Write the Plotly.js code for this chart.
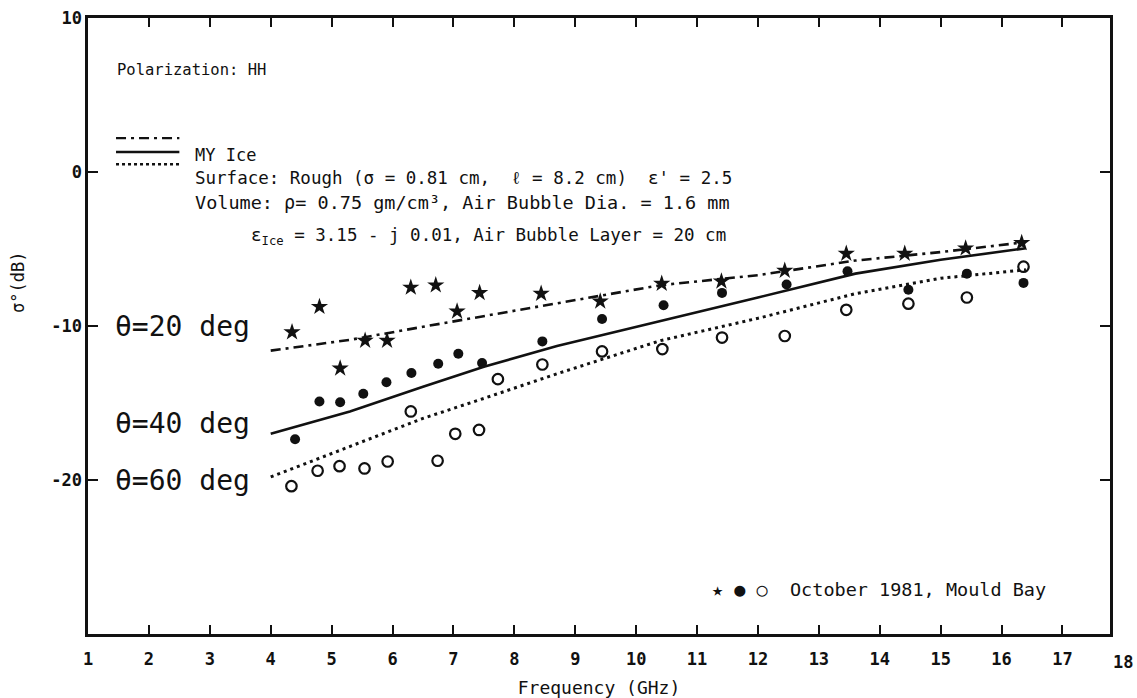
<!DOCTYPE html>
<html>
<head>
<meta charset="utf-8">
<script src="https://cdn.plot.ly/plotly-3.0.1.min.js"></script>
<style>
  html, body { margin: 0; padding: 0; background: #fff; }
  #chart { width: 1137px; height: 698px; }
</style>
</head>
<body>
<div id="chart"></div>
<script>
// Measured backscatter, October 1981, Mould Bay (HH polarization)
const freqStar   = [4.35, 4.80, 5.14, 5.55, 5.91, 6.30, 6.71, 7.06, 7.43, 8.44, 9.41, 10.42, 11.40, 12.44, 13.45, 14.41, 15.41, 16.33];
const sigmaStar  = [-10.4, -8.75, -12.75, -10.95, -10.95, -7.5, -7.35, -9.05, -7.85, -7.9, -8.4, -7.25, -7.1, -6.4, -5.3, -5.3, -4.95, -4.6];

const freqFilled  = [4.40, 4.80, 5.14, 5.52, 5.90, 6.31, 6.75, 7.08, 7.47, 8.46, 9.44, 10.45, 11.41, 12.47, 13.47, 14.47, 15.43, 16.36];
const sigmaFilled = [-17.35, -14.9, -14.95, -14.4, -13.65, -13.05, -12.45, -11.8, -12.4, -11.0, -9.55, -8.65, -7.85, -7.3, -6.45, -7.65, -6.6, -7.2];

const freqOpen  = [4.34, 4.77, 5.13, 5.54, 5.92, 6.30, 6.74, 7.03, 7.42, 7.73, 8.46, 9.44, 10.43, 11.41, 12.44, 13.45, 14.47, 15.43, 16.36];
const sigmaOpen = [-20.4, -19.4, -19.1, -19.25, -18.8, -15.55, -18.75, -17.0, -16.75, -13.45, -12.5, -11.65, -11.5, -10.75, -10.65, -8.95, -8.55, -8.15, -6.15];

// Model curves for multi-year ice
const freqModel  = [4.0, 5.3, 6.5, 7.5, 8.7, 10.4, 12.0, 13.6, 15.0, 16.4];
const model20deg = [-11.6, -10.9, -10.05, -9.35, -8.5, -7.35, -6.7, -5.75, -5.2, -4.55];
const model40deg = [-17.0, -15.55, -13.95, -12.65, -11.3, -9.7, -8.15, -6.6, -5.7, -4.95];
const model60deg = [-19.8, -17.85, -16.0, -14.7, -13.1, -10.95, -9.5, -7.9, -6.9, -6.35];

// Axis ticks
const xTickVals = [1, 2, 3, 4, 5, 6, 7, 8, 9, 10, 11, 12, 13, 14, 15, 16, 17];
const xExtraLabel = 18;
const yTickVals = [10, 0, -10, -20];
const yTickText = ['10', '0', '-10', '-20'];

const xRange = [1, 17.78];
const yRange = [-30, 10];

const ink = '#111';
const mono = '"DejaVu Sans Mono", "Liberation Mono", monospace';

const traces = [
  { x: freqModel, y: model20deg, mode: 'lines', line: { color: ink, width: 2.6, dash: '10px,5px,3px,5px' } },
  { x: freqModel, y: model40deg, mode: 'lines', line: { color: ink, width: 2.6 } },
  { x: freqModel, y: model60deg, mode: 'lines', line: { color: ink, width: 3, dash: '3px,4px' } },
  { x: freqStar, y: sigmaStar, mode: 'markers', marker: { symbol: 'star', size: 13, color: ink } },
  { x: freqFilled, y: sigmaFilled, mode: 'markers', marker: { symbol: 'circle', size: 10, color: ink } },
  { x: freqOpen, y: sigmaOpen, mode: 'markers', marker: { symbol: 'circle-open', size: 10.5, color: ink, line: { width: 2.2, color: ink } } }
];

const txt = (x, y, text, size, extra) => Object.assign({
  x: x, y: y, xref: 'x', yref: 'y', text: text, showarrow: false,
  xanchor: 'left', yanchor: 'middle',
  font: { family: mono, size: size, color: ink }
}, extra || {});

const annotations = [
  txt(1.44, 6.6, 'Polarization: HH', 15.5),
  txt(2.72, 1.1, 'MY Ice', 17),
  txt(2.72, -0.4, "Surface: Rough (σ = 0.81 cm,  ℓ = 8.2 cm)  ε' = 2.5", 17.5),
  txt(2.72, -2.0, 'Volume: ρ= 0.75 gm/cm³, Air Bubble Dia. = 1.6 mm', 18.5),
  txt(3.65, -4.2, 'ε<sub>Ice</sub> = 3.15 - j 0.01, Air Bubble Layer = 20 cm', 17.5),
  txt(1.41, -10.05, 'θ=20 deg', 28),
  txt(1.41, -16.3, 'θ=40 deg', 28),
  txt(1.41, -20.0, 'θ=60 deg', 28),
  txt(11.22, -27.1, '★ ● ○  October 1981, Mould Bay', 18.5),
  // y-axis title
  {
    x: 0, y: -7.2, xref: 'paper', yref: 'y', xshift: -70, textangle: -90,
    xanchor: 'center', yanchor: 'middle', showarrow: false,
    text: 'σ°(dB)', font: { family: mono, size: 17, color: ink }
  },
  // last frequency label, just past the right edge of the frame
  {
    x: (xExtraLabel - xRange[0]) / (xRange[1] - xRange[0]), y: 0,
    xref: 'paper', yref: 'paper', yanchor: 'middle', xanchor: 'center', yshift: -28,
    text: String(xExtraLabel), showarrow: false,
    font: { family: mono, size: 17, color: ink, weight: 'bold' }
  }
];

// Key for the three model curves
const keyLine = (y, dash, width) => ({
  type: 'line', xref: 'x', yref: 'y', x0: 1.46, x1: 2.5, y0: y, y1: y,
  line: { color: ink, width: width, dash: dash }
});
const shapes = [
  keyLine(2.2, '10px,5px,3px,5px', 2.4),
  keyLine(1.3, 'solid', 2.4),
  keyLine(0.5, '3px,3px', 2.6)
];

const layout = {
  width: 1137, height: 698,
  margin: { l: 88, r: 27, t: 18, b: 64 },
  paper_bgcolor: '#fff', plot_bgcolor: '#fff',
  showlegend: false,
  font: { family: mono, color: ink },
  xaxis: {
    range: xRange, tickvals: xTickVals, ticks: 'inside', ticklen: 9, tickwidth: 2,
    tickcolor: ink, showline: true, linecolor: ink, linewidth: 2.6, mirror: 'ticks',
    showgrid: false, zeroline: false, ticklabelstandoff: 8,
    tickfont: { family: mono, size: 17, color: ink, weight: 'bold' },
    title: { text: 'Frequency (GHz)', font: { family: mono, size: 18, color: ink }, standoff: 14 }
  },
  yaxis: {
    range: yRange, tickvals: yTickVals, ticktext: yTickText, ticks: 'inside', ticklen: 10, tickwidth: 2,
    tickcolor: ink, showline: true, linecolor: ink, linewidth: 2.6, mirror: 'ticks',
    showgrid: false, zeroline: false,
    tickfont: { family: mono, size: 17, color: ink, weight: 'bold' }
  },
  annotations: annotations,
  shapes: shapes
};

Plotly.newPlot('chart', traces, layout, { staticPlot: true, displayModeBar: false });
</script>
</body>
</html>
